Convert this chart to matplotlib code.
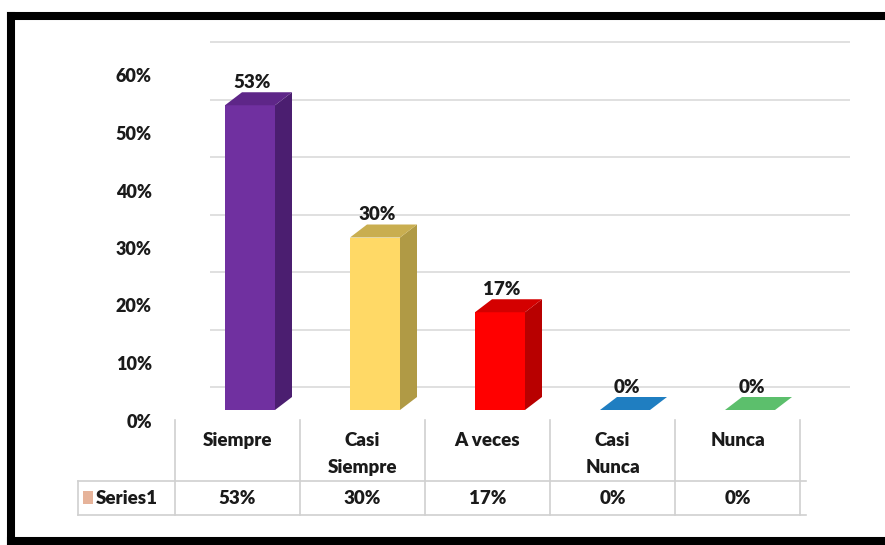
import matplotlib.pyplot as plt
import matplotlib.transforms as mtransforms
from matplotlib.lines import Line2D
from matplotlib.patches import Polygon, Rectangle
import numpy as np

plt.rcParams['font.family'] = ['Lato', 'DejaVu Sans']

categories = ['Siempre', 'Casi\nSiempre', 'A veces', 'Casi\nNunca', 'Nunca']
values = [0.53, 0.30, 0.17, 0.0, 0.0]
value_labels = ['53%', '30%', '17%', '0%', '0%']
series_name = 'Series1'
yticks = [0.0, 0.1, 0.2, 0.3, 0.4, 0.5, 0.6]
ytick_labels = ['0%', '10%', '20%', '30%', '40%', '50%', '60%']

front = ['#7030A0', '#FFD966', '#FF0000', '#1F7EC1', '#5CBF6C']
side = ['#4B1E70', '#B09A45', '#B80000', '#15598A', '#3F8A4B']
top = ['#5E2688', '#C9AE50', '#D40000', '#1F7EC1', '#5CBF6C']

W, H = 885, 545
fig = plt.figure(figsize=(W / 100, H / 100), dpi=100)

def fx(px):
    return px / W

def fy(py):
    return 1 - py / H

# pixel transform with y measured from the top
top_px = mtransforms.Affine2D().scale(1, -1).translate(0, H)

# outer black frame (right side runs off the picture)
frame_kw = dict(transform=fig.transFigure, color='black', lw=5.8, solid_capstyle='projecting')
fig.add_artist(Line2D([fx(11), 1.01], [fy(16), fy(16)], **frame_kw))
fig.add_artist(Line2D([fx(11), fx(11)], [fy(16), fy(541)], **frame_kw))
fig.add_artist(Line2D([fx(11), 1.01], [fy(541), fy(541)], **frame_kw))

ax = fig.add_axes([fx(175), fy(410), fx(800) - fx(175), fy(65) - fy(410)])
ax.set_xlim(-0.5, len(categories) - 0.5)
ax.set_ylim(0, 0.6)
ax.axis('off')

x = np.arange(len(categories))
bx = x + 0.1
bw = 0.4
dx, dy = 0.136, 0.0226
back = 0.04

# back wall gridlines
for v in yticks:
    ax.plot([-0.22, 4.9], [v + back, v + back], color='#DDDDDD', lw=1.3, zorder=0,
            clip_on=False, solid_capstyle='butt')

# 3d bars
for i, v in enumerate(values):
    x0, x1 = bx[i] - bw / 2, bx[i] + bw / 2
    if v > 0:
        ax.bar(bx[i], v, width=bw, color=front[i], zorder=3)
        ax.add_patch(Polygon([(x1, 0), (x1 + dx, dy), (x1 + dx, v + dy), (x1, v)],
                             closed=True, fc=side[i], ec='none', zorder=3, clip_on=False))
    ax.add_patch(Polygon([(x0, v), (x0 + dx, v + dy), (x1 + dx, v + dy), (x1, v)],
                         closed=True, fc=top[i], ec='none', zorder=3, clip_on=False))
    ax.annotate(value_labels[i], (bx[i], v), xytext=(1.5, 16.5), textcoords='offset points',
                ha='center', va='center', fontsize=13.5, fontweight='heavy', color='#1a1a1a',
                annotation_clip=False)

# y tick labels (shifted down like the 3d front plane)
ylab = mtransforms.offset_copy(ax.get_yaxis_transform(), fig=fig, x=0, y=-12, units='dots')
for v, lab in zip(yticks, ytick_labels):
    ax.text(-0.037, v, lab, transform=ylab, ha='right', va='center',
            fontsize=13, fontweight='heavy', color='#1a1a1a')

# data table
tt = mtransforms.blended_transform_factory(ax.transData, top_px)
line_kw = dict(color='#D0D0D0', lw=1.2, clip_on=False, transform=tt)
for b in np.arange(-0.5, len(categories)):
    ax.plot([b, b], [420, 515], **line_kw)
left = -0.5 - 97 / 125
right = len(categories) - 0.5 + 6 / 125
ax.plot([left, right], [481, 481], **line_kw)
ax.plot([left, right], [515, 515], **line_kw)
ax.plot([left, left], [481, 515], **line_kw)

for i, c in enumerate(categories):
    ax.text(x[i], 432, c, transform=tt, ha='center', va='top', fontsize=13.5,
            fontweight='heavy', color='#1a1a1a', linespacing=1.7)
    ax.text(x[i], 498, value_labels[i], transform=tt, ha='center', va='center',
            fontsize=13.5, fontweight='heavy', color='#1a1a1a')

ax.add_patch(Rectangle((left + 5 / 125, 491), 10 / 125, 13, transform=tt,
                       fc='#E6B39A', ec='none', clip_on=False))
ax.text(left + 18 / 125, 498, series_name, transform=tt, ha='left', va='center',
        fontsize=13.5, fontweight='heavy', color='#1a1a1a')

fig.savefig('out.png', dpi=100)
